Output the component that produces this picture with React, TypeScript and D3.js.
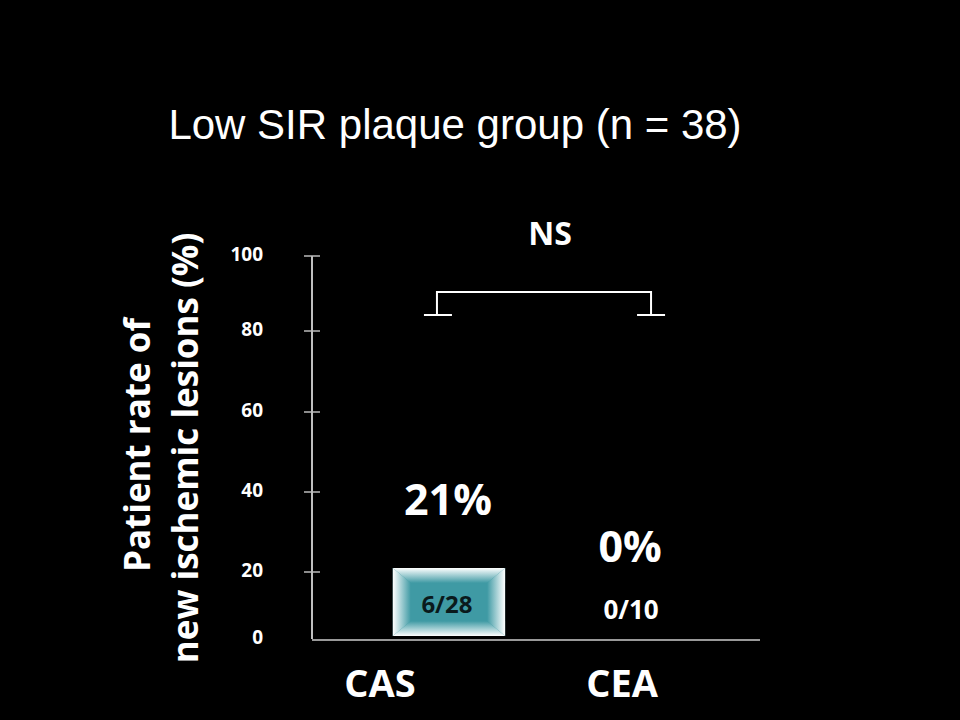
import React from "react";
import * as d3 from "d3";

const categories = ["CAS", "CEA"];
const values = [21, 0];
const pctLabels = ["21%", "0%"];
const countLabels = ["6/28", "0/10"];
const yTicks = [0, 20, 40, 60, 80, 100];
const title = "Low SIR plaque group (n = 38)";
const yLabelLines = ["Patient rate of", "new ischemic lesions (%)"];
const sigLabel = "NS";

const W = 960, H = 720;
const FONT = "'Open Sans', 'DejaVu Sans', sans-serif";

export default function App() {
  const y = d3.scaleLinear().domain(yTicks).range([639, 572, 492, 412, 331, 256]);
  const x = d3.scaleBand().domain(categories).range([321, 761]).paddingInner(0.39).paddingOuter(0.39);
  const cx = (c: string) => (x(c) as number) + x.bandwidth() / 2;
  const bw = x.bandwidth();
  const teal = "#3f9aa4";
  const bevX = 18, bevY = 15;

  return (
    <svg width={W} height={H} style={{ display: "block", position: "absolute", left: 0, top: 0 }}>
      <defs>
        <linearGradient id="gTop" x1="0" y1="0" x2="0" y2="1">
          <stop offset="0" stopColor="#ffffff" />
          <stop offset="1" stopColor={teal} />
        </linearGradient>
        <linearGradient id="gBot" x1="0" y1="1" x2="0" y2="0">
          <stop offset="0" stopColor="#ffffff" />
          <stop offset="1" stopColor={teal} />
        </linearGradient>
        <linearGradient id="gLeft" x1="0" y1="0" x2="1" y2="0">
          <stop offset="0" stopColor="#ffffff" />
          <stop offset="1" stopColor={teal} />
        </linearGradient>
        <linearGradient id="gRight" x1="1" y1="0" x2="0" y2="0">
          <stop offset="0" stopColor="#ffffff" />
          <stop offset="1" stopColor={teal} />
        </linearGradient>
      </defs>
      <rect x={0} y={0} width={W} height={H} fill="#000" />
      <text x={455} y={139} textAnchor="middle" fill="#fff" fontFamily="'Liberation Sans', Arial, sans-serif" fontSize={42}>{title}</text>

      {/* y axis */}
      <line x1={312} x2={312} y1={y(100)} y2={y(0)} stroke="#fff" strokeWidth={1.5} />
      <line x1={312} x2={760} y1={y(0) + 1} y2={y(0) + 1} stroke="#ccc" strokeWidth={1.5} />
      {yTicks.map((t) => (
        <g key={t}>
          {t > 0 && <line x1={304} x2={320} y1={y(t)} y2={y(t)} stroke="#bbb" strokeWidth={1.5} />}
          <text x={263} y={y(t) + 5} textAnchor="end" fill="#fff" fontFamily={FONT} fontWeight={700} fontSize={19}>{t}</text>
        </g>
      ))}

      {/* y label */}
      <g transform="translate(150,445) rotate(-90)">
        <text x={0} y={0} textAnchor="middle" fill="#fff" fontFamily={FONT} fontWeight={700} fontSize={35}>{yLabelLines[0]}</text>
      </g>
      <g transform="translate(198,448) rotate(-90)">
        <text x={0} y={0} textAnchor="middle" fill="#fff" fontFamily={FONT} fontWeight={700} fontSize={35}>{yLabelLines[1]}</text>
      </g>

      {/* bars */}
      {categories.map((c, i) => {
        const x0 = x(c) as number;
        const x1 = x0 + bw;
        const y0 = y(values[i]);
        const y1 = y(0) - 3;
        const h = y1 - y0;
        if (h <= 0) return null;
        return (
          <g key={c}>
            <rect x={x0} y={y0} width={bw} height={h} fill={teal} />
            <polygon points={`${x0},${y0} ${x1},${y0} ${x1 - bevX},${y0 + bevY} ${x0 + bevX},${y0 + bevY}`} fill="url(#gTop)" />
            <polygon points={`${x0},${y1} ${x1},${y1} ${x1 - bevX},${y1 - bevY} ${x0 + bevX},${y1 - bevY}`} fill="url(#gBot)" />
            <polygon points={`${x0},${y0} ${x0 + bevX},${y0 + bevY} ${x0 + bevX},${y1 - bevY} ${x0},${y1}`} fill="url(#gLeft)" />
            <polygon points={`${x1},${y0} ${x1 - bevX},${y0 + bevY} ${x1 - bevX},${y1 - bevY} ${x1},${y1}`} fill="url(#gRight)" />
          </g>
        );
      })}

      {/* labels */}
      {categories.map((c, i) => (
        <g key={c}>
          <text x={cx(c) + (i === 0 ? -1 : -3)} y={i === 0 ? 515 : 562} textAnchor="middle" fill="#fff" fontFamily={FONT} fontWeight={700} fontSize={43}>{pctLabels[i]}</text>
          <text x={cx(c) - 2} y={i === 0 ? 613 : 619} textAnchor="middle" fill={i === 0 ? "#0a1a1c" : "#fff"} fontFamily={FONT} fontWeight={700} fontSize={i === 0 ? 24 : 26}>{countLabels[i]}</text>
          <text x={cx(c) - (i === 0 ? 69 : 11)} y={697} textAnchor="middle" fill="#fff" fontFamily={FONT} fontWeight={700} fontSize={38}>{c}</text>
        </g>
      ))}

      {/* significance bracket */}
      {(() => {
        const l = cx(categories[0]) - 12;
        const r = cx(categories[1]) + 18;
        const top = 292, bot = 315;
        return (
          <g stroke="#fff" strokeWidth={2} fill="none">
            <path d={`M${l},${bot} V${top} H${r} V${bot}`} />
            <line x1={l - 13} x2={l + 15} y1={bot} y2={bot} />
            <line x1={r - 14} x2={r + 14} y1={bot} y2={bot} />
            <text x={(l + r) / 2 + 6} y={245} textAnchor="middle" fill="#fff" stroke="none" fontFamily={FONT} fontWeight={700} fontSize={32}>{sigLabel}</text>
          </g>
        );
      })()}
    </svg>
  );
}
